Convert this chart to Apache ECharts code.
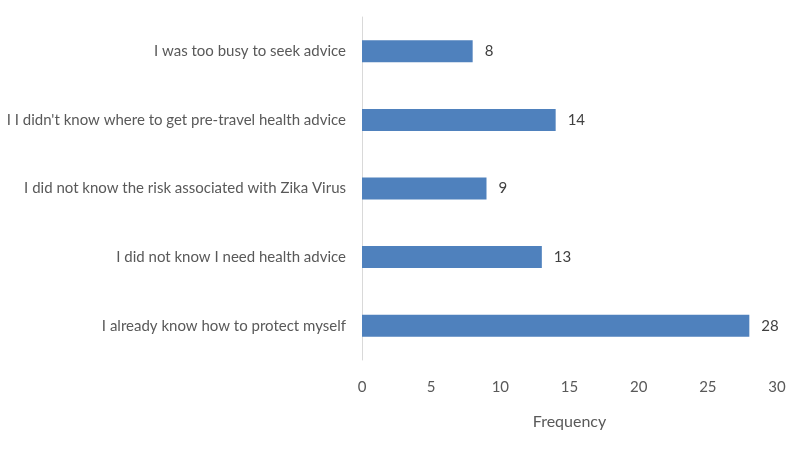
<!DOCTYPE html>
<html>
<head>
<meta charset="utf-8">
<script src="https://cdn.jsdelivr.net/npm/echarts@6/dist/echarts.min.js"></script>
<style>
  html, body { margin: 0; padding: 0; background: #fff; }
  #chart { width: 800px; height: 450px; }
</style>
</head>
<body>
<div id="chart"></div>
<script>
// categories from bottom to top
const reasons = [
  'I already know how to protect myself',
  'I did not know I need health advice',
  'I did not know the risk associated with Zika Virus',
  "I I didn't know where to get pre-travel health advice",
  'I was too busy to seek advice'
]
const frequency = [28, 13, 9, 14, 8]
const xTicks = [0, 5, 10, 15, 20, 25, 30]

const textFont = 'Lato, "Open Sans", sans-serif'
const chart = echarts.init(document.getElementById('chart'))

chart.setOption({
  animation: false,
  grid: {
    left: 362,
    right: 23,
    top: 17,
    bottom: 90
  },
  xAxis: {
    type: 'value',
    min: xTicks[0],
    max: xTicks[xTicks.length - 1],
    interval: 5,
    name: 'Frequency',
    nameLocation: 'middle',
    nameGap: 54,
    nameTextStyle: { fontFamily: textFont, fontSize: 16, color: '#595959' },
    axisLine: { show: false },
    axisTick: { show: false },
    splitLine: { show: false },
    axisLabel: { fontFamily: textFont, fontSize: 15, color: '#595959', margin: 20 }
  },
  yAxis: {
    type: 'category',
    data: reasons,
    axisLine: { show: true, lineStyle: { color: '#D9D9D9', width: 1 } },
    axisTick: { show: false },
    axisLabel: { fontFamily: textFont, fontSize: 15, color: '#595959', margin: 16 }
  },
  series: [
    {
      type: 'bar',
      data: frequency,
      barWidth: 22,
      itemStyle: { color: '#4F81BD' },
      label: {
        show: true,
        position: 'right',
        distance: 12,
        fontFamily: textFont,
        fontSize: 15,
        color: '#404040'
      }
    }
  ]
})
</script>
</body>
</html>
